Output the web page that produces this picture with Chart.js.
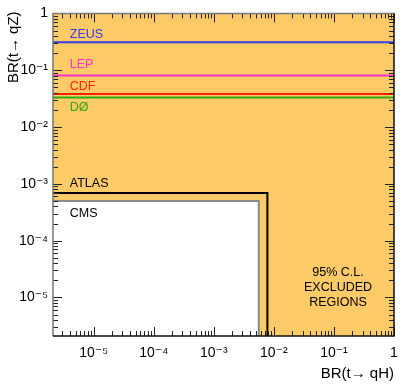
<!DOCTYPE html>
<html>
<head>
<meta charset="utf-8">
<script src="https://cdn.jsdelivr.net/npm/chart.js@4/dist/chart.umd.min.js"></script>
<style>
    html, body { margin: 0; padding: 0; background: #fff; }
    #wrap { width: 407px; height: 387px; }
</style>
</head>
<body>
<div id="wrap"><canvas id="chart"></canvas></div>
<script>
// axis ranges, BR(t -> qH) on x and BR(t -> qZ) on y
const xRange = [2.1e-6, 1];
const yRange = [2.1e-6, 1];
const xTickValues = [1e-5, 1e-4, 1e-3, 1e-2, 1e-1, 1];
const xTickLabels = ['10⁻⁵', '10⁻⁴', '10⁻³', '10⁻²', '10⁻¹', '1'];
const yTickValues = [1e-5, 1e-4, 1e-3, 1e-2, 1e-1, 1];
const yTickLabels = ['10⁻⁵', '10⁻⁴', '10⁻³', '10⁻²', '10⁻¹', '1'];
const xTitle = 'BR(t→ qH)';
const yTitle = 'BR(t→ qZ)';

// older limits on BR(t -> qZ) only
const limitNames = ['ZEUS', 'LEP', 'CDF', 'DØ'];
const limitValues = [0.31, 0.081, 0.038, 0.033];
const limitColors = ['#3a3ae6', '#ff33cc', '#ff2200', '#33a811'];

// LHC limits: [BR(t->qH), BR(t->qZ)]
const atlasLimit = [7.8e-3, 6.9e-4];
const cmsLimit = [5.6e-3, 5.0e-4];

// text labels placed in data coordinates
const noteTexts = ['ZEUS', 'LEP', 'CDF', 'DØ', 'ATLAS', 'CMS', '95% C.L.', 'EXCLUDED', 'REGIONS'];
const noteX = [4e-6, 4e-6, 4e-6, 4e-6, 4e-6, 4e-6, 0.117, 0.117, 0.117];
const noteY = [0.43, 0.127, 0.052, 0.022, 1.0e-3, 3.0e-4, 2.7e-5, 1.5e-5, 8.1e-6];
const noteColors = ['#3a3ae6', '#ff33cc', '#ff2200', '#33a811', '#000', '#000', '#000', '#000', '#000'];

const FONT = '"Liberation Sans", "DejaVu Sans", sans-serif';

function tickLabel(values, labels, value) {
    const i = values.findIndex(v => Math.abs(v - value) / v < 1e-6);
    return i >= 0 ? labels[i] : '';
}

const backgroundPlugin = {
    id: 'excludedBackground',
    beforeDraw(chart) {
        const { ctx, chartArea } = chart;
        ctx.save();
        ctx.fillStyle = '#fdca68';
        ctx.fillRect(chartArea.left, chartArea.top, chartArea.right - chartArea.left, chartArea.bottom - chartArea.top);
        ctx.restore();
    }
};

// inward ticks on all four sides, like ROOT frames
const frameTicksPlugin = {
    id: 'frameTicks',
    afterDatasetsDraw(chart) {
        const { ctx, chartArea } = chart;
        const { left, right, top, bottom } = chartArea;
        const xs = chart.scales.x, ys = chart.scales.y;
        ctx.save();
        ctx.lineWidth = 1;

        const logTicks = (range) => {
            const out = [];
            for (let d = Math.floor(Math.log10(range[0])); d <= Math.ceil(Math.log10(range[1])); d++) {
                for (let m = 1; m <= 9; m++) {
                    const v = m * Math.pow(10, d);
                    if (v >= range[0] * 0.999 && v <= range[1] * 1.001) out.push({ v, major: m === 1 });
                }
            }
            return out;
        };

        ctx.strokeStyle = '#222';
        ctx.beginPath();
        for (const t of logTicks(xRange)) {
            const px = Math.round(xs.getPixelForValue(t.v)) + 0.5;
            const len = t.major ? 9 : 5;
            ctx.moveTo(px, bottom); ctx.lineTo(px, bottom - len);
            ctx.moveTo(px, top); ctx.lineTo(px, top + len);
        }
        for (const t of logTicks(yRange)) {
            const py = Math.round(ys.getPixelForValue(t.v)) + 0.5;
            const len = t.major ? 9 : 5;
            ctx.moveTo(left, py); ctx.lineTo(left + len, py);
            ctx.moveTo(right, py); ctx.lineTo(right - len, py);
        }
        ctx.stroke();

        ctx.lineWidth = 1.5;
        ctx.strokeStyle = '#777';
        ctx.beginPath();
        ctx.moveTo(left, bottom); ctx.lineTo(left, top); ctx.lineTo(right, top);
        ctx.stroke();
        ctx.strokeStyle = '#111';
        ctx.beginPath();
        ctx.moveTo(left, bottom); ctx.lineTo(right, bottom); ctx.lineTo(right, top);
        ctx.stroke();
        ctx.restore();
    }
};

const notesPlugin = {
    id: 'notes',
    afterDatasetsDraw(chart) {
        const { ctx, chartArea } = chart;
        const xs = chart.scales.x, ys = chart.scales.y;
        ctx.save();
        ctx.font = '12.5px ' + FONT;
        ctx.textBaseline = 'middle';
        noteTexts.forEach((text, i) => {
            ctx.fillStyle = noteColors[i];
            ctx.textAlign = i >= 6 ? 'center' : 'left';
            ctx.fillText(text, xs.getPixelForValue(noteX[i]), ys.getPixelForValue(noteY[i]));
        });
        ctx.restore();

        // y axis title, top aligned with the frame (ROOT style)
        ctx.save();
        ctx.font = '15px ' + FONT;
        ctx.fillStyle = '#000';
        ctx.textAlign = 'right';
        ctx.textBaseline = 'middle';
        ctx.translate(14, chartArea.top - 2);
        ctx.rotate(-Math.PI / 2);
        ctx.fillText(yTitle, 0, 0);
        ctx.restore();
    }
};

const limitDatasets = limitNames.map((name, i) => ({
    label: name,
    data: [{ x: xRange[0], y: limitValues[i] }, { x: xRange[1], y: limitValues[i] }],
    showLine: true,
    borderColor: limitColors[i],
    borderWidth: 2,
    pointRadius: 0,
    fill: false
}));

const datasets = [
    ...limitDatasets,
    {
        label: 'ATLAS',
        data: [
            { x: xRange[0], y: atlasLimit[1] },
            { x: atlasLimit[0], y: atlasLimit[1] },
            { x: atlasLimit[0], y: yRange[0] }
        ],
        showLine: true,
        borderColor: '#000',
        borderWidth: 2,
        pointRadius: 0,
        fill: false
    },
    {
        label: 'CMS',
        data: [
            { x: xRange[0], y: cmsLimit[1] },
            { x: cmsLimit[0], y: cmsLimit[1] },
            { x: cmsLimit[0], y: yRange[0] }
        ],
        showLine: true,
        borderColor: '#8a8a8a',
        borderWidth: 2,
        backgroundColor: '#ffffff',
        pointRadius: 0,
        fill: 'start'
    }
];

const chartConfig = {
    type: 'scatter',
    data: { datasets },
    options: {
        responsive: true,
        maintainAspectRatio: false,
        animation: false,
        layout: { padding: { top: 12, right: 13, left: 0, bottom: 0 } },
        plugins: {
            legend: { display: false },
            tooltip: { enabled: false },
            title: { display: false }
        },
        scales: {
            x: {
                type: 'logarithmic',
                position: 'bottom',
                min: xRange[0],
                max: xRange[1],
                grid: { display: false, drawTicks: false },
                border: { display: false },
                afterBuildTicks: (scale) => { scale.ticks = xTickValues.map(v => ({ value: v })); },
                afterFit: (scale) => { scale.height = 51; },
                ticks: {
                    autoSkip: false,
                    maxRotation: 0,
                    padding: 9,
                    color: '#000',
                    font: { family: FONT, size: 14 },
                    callback: (value) => tickLabel(xTickValues, xTickLabels, value)
                },
                title: {
                    display: true,
                    text: xTitle,
                    align: 'end',
                    color: '#000',
                    font: { family: FONT, size: 15 },
                    padding: { top: 0, bottom: 4 }
                }
            },
            y: {
                type: 'logarithmic',
                position: 'left',
                min: yRange[0],
                max: yRange[1],
                grid: { display: false, drawTicks: false },
                border: { display: false },
                afterBuildTicks: (scale) => { scale.ticks = yTickValues.map(v => ({ value: v })); },
                afterFit: (scale) => { scale.width = 53; },
                ticks: {
                    autoSkip: false,
                    padding: 5,
                    color: '#000',
                    font: { family: FONT, size: 14 },
                    callback: (value) => tickLabel(yTickValues, yTickLabels, value)
                },
                title: { display: false }
            }
        }
    },
    plugins: [backgroundPlugin, frameTicksPlugin, notesPlugin]
};

window.chart = new Chart(document.getElementById('chart'), chartConfig);
</script>
</body>
</html>
